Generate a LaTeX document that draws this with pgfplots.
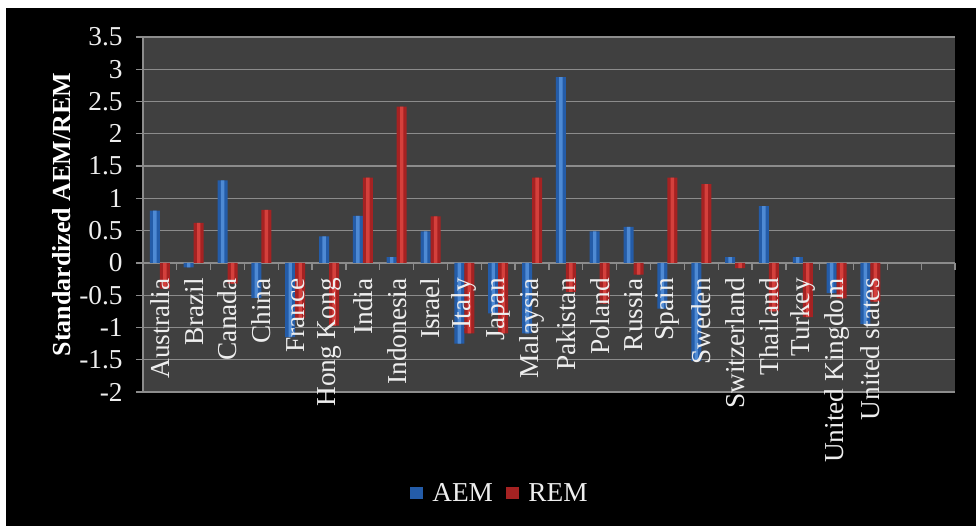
\documentclass[border=0pt]{standalone}
\usepackage{fontspec}
\setmainfont{Liberation Serif}
\usepackage{pgfplots}
\usepackage{pgfplotstable}
\pgfplotsset{compat=1.18}
\definecolor{plotbg}{RGB}{64,64,64}
\definecolor{gridc}{RGB}{140,140,140}
\definecolor{blueD}{RGB}{36,92,168}
\definecolor{blueL}{RGB}{78,138,212}
\definecolor{redD}{RGB}{165,34,34}
\definecolor{redL}{RGB}{212,64,60}
\definecolor{txt}{RGB}{238,238,238}
\pgfplotstableread{
idx AEM REM
0 0.81 -0.40
1 -0.07 0.62
2 1.28 -0.32
3 -0.54 0.82
4 -1.15 -0.85
5 0.41 -0.97
6 0.73 1.32
7 0.09 2.42
8 0.49 0.72
9 -1.25 -1.09
10 -0.78 -1.09
11 -1.09 1.32
12 2.88 -0.45
13 0.49 -0.63
14 0.56 -0.18
15 -0.71 1.32
16 -1.52 1.22
17 0.09 -0.08
18 0.88 -0.75
19 0.09 -0.84
20 -0.47 -0.55
21 -0.95 -0.60
}\datatable
\pgfplotsset{common/.style={
  at={(107.25pt,100.5pt)}, anchor=south west,
  width=609pt, height=266.25pt, scale only axis,
  font=\fontsize{20.5}{24}\selectfont,
  /pgf/number format/assume math mode=true,
  xmin=-0.5, xmax=23.5, ymin=-2, ymax=3.5,
  axis x line=middle,
}}
\begin{document}
\begin{tikzpicture}
\fill[white] (0pt,0pt) rectangle (732pt,394.5pt);
\fill[black] (4.5pt,0pt) rectangle (732pt,388.5pt);
\begin{axis}[
  common,
  axis background/.style={fill=plotbg},
  axis y line=left,
  axis line style={-, draw=gridc, line width=1pt},
  ytick={-2,-1.5,...,3.5},
  yticklabel style={text=txt, xshift=-6.5pt, /pgf/number format/fixed},
  ymajorgrids, grid style={draw=gridc, line width=1pt},
  tick align=outside, major tick length=5.25pt,
  tick style={draw=gridc, line width=1pt},
  xtick={-0.5,0.5,...,23.5}, xticklabels={},
  ylabel={\fontsize{19.5}{23}\selectfont\bfseries Standardized AEM/REM},
  ylabel style={text=white, at={(axis description cs:-0.0998,0.5)}, anchor=center},
  ybar, bar width=7.5pt,
  legend columns=2,
  legend style={draw=none, fill=none, text=txt, at={(0.44,-0.285)}, anchor=center,
    /tikz/every odd column/.append style={column sep=5pt},
    /tikz/every even column/.append style={column sep=8pt}},
  legend image code/.code={\path[#1, draw=none] (0pt,-4.5pt) rectangle (9.5pt,5pt);},
]
\addplot[draw=none, fill=blueD, bar shift=-3.75pt] table[x=idx, y=AEM] {\datatable};
\addplot[draw=none, fill=redD, bar shift=3.75pt] table[x=idx, y=REM] {\datatable};
\addplot[draw=none, fill=blueL, bar width=2.6pt, bar shift=-3.75pt, forget plot] table[x=idx, y=AEM] {\datatable};
\addplot[draw=none, fill=redL, bar width=2.6pt, bar shift=3.75pt, forget plot] table[x=idx, y=REM] {\datatable};
\legend{AEM,REM}
\end{axis}
\begin{axis}[
  common,
  axis y line=none,
  axis line style={draw=none},
  ytick=\empty,
  major tick length=0pt,
  xtick={0,1,...,21},
  xticklabels={Australia,Brazil,Canada,China,France,Hong Kong,India,Indonesia,Israel,Italy,Japan,Malaysia,Pakistan,Poland,Russia,Spain,Sweden,Switzerland,Thailand,Turkey,United Kingdom,United states},
  xticklabel style={yshift=-8pt, rotate=90, anchor=east, text=txt},
]
\end{axis}
\end{tikzpicture}
\end{document}
